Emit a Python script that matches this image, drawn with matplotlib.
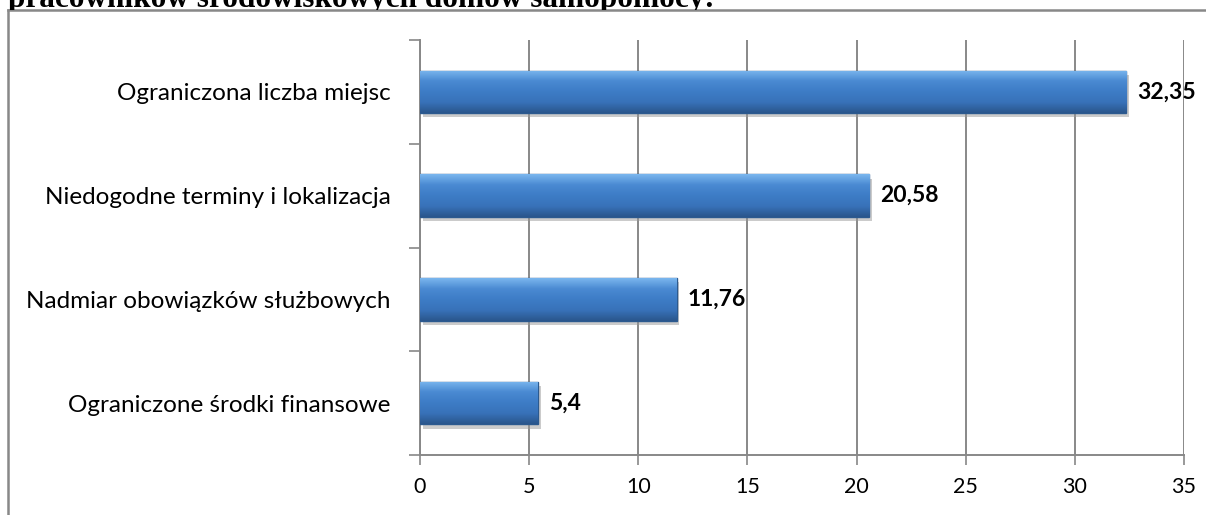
import numpy as np
import matplotlib
matplotlib.use("Agg")
import matplotlib.pyplot as plt
import matplotlib.patheffects as pe
from matplotlib.colors import LinearSegmentedColormap
from matplotlib.lines import Line2D
from matplotlib.transforms import Bbox, TransformedBbox

categories = ['Ograniczona liczba miejsc', 'Niedogodne terminy i lokalizacja',
              'Nadmiar obowiązków służbowych', 'Ograniczone środki finansowe']
values = [32.35, 20.58, 11.76, 5.4]
value_labels = ['32,35', '20,58', '11,76', '5,4']
xticks = [0, 5, 10, 15, 20, 25, 30, 35]
title = 'pracowników środowiskowych domów samopomocy:'

plt.rcParams['font.family'] = ['Lato', 'DejaVu Sans']

fig = plt.figure(figsize=(12.06, 5.15), dpi=100)
ax = fig.add_axes([420 / 1206, 1 - 455 / 515, 764 / 1206, 415 / 515])

ypos = np.arange(len(categories))[::-1]
bars = ax.barh(ypos, values, height=0.41, color='#3b78c2', edgecolor='#2c5a8f',
               linewidth=1.0, zorder=3)

# bevelled gradient look
grad = LinearSegmentedColormap.from_list('bev', ['#2a568c', '#3872b9', '#3d7cc6', '#4a8ad2', '#7ab6ee'])
g = np.linspace(0, 1, 100).reshape(-1, 1)
for b in bars:
    b.set_path_effects([pe.SimplePatchShadow(offset=(2, -3), shadow_rgbFace='#999999', alpha=0.5),
                        pe.Normal()])
    x0, y0 = b.get_x(), b.get_y()
    im = ax.imshow(g, cmap=grad, aspect='auto', origin='lower',
                   extent=(x0, x0 + b.get_width(), y0, y0 + b.get_height()), zorder=4)
    im.set_clip_path(b)

for y, v, t in zip(ypos, values, value_labels):
    ax.annotate(t, (v, y), xytext=(8, 0), textcoords='offset points',
                ha='left', va='center', fontsize=16.5, fontweight='bold', zorder=5)

ax.set_xlim(0, 35)
ax.set_ylim(-0.5, 3.5)
ax.set_xticks(xticks)
ax.set_xticklabels([str(x) for x in xticks], fontsize=15.5)
ax.set_yticks(np.arange(-0.5, 4, 1))
ax.set_yticklabels([])
ax.set_yticks(ypos, minor=True)
ax.set_yticklabels(categories, minor=True, fontsize=17.5)
ax.tick_params(axis='y', which='major', length=8, width=1.2, color='#888888', direction='out')
ax.tick_params(axis='y', which='minor', length=0, pad=21)
ax.tick_params(axis='x', length=7, width=1.2, color='#888888', direction='out', pad=9)

ax.grid(axis='x', color='#888888', linewidth=1.4, zorder=0)
ax.set_axisbelow(True)
for s in ['top', 'right']:
    ax.spines[s].set_visible(False)
for s in ['left', 'bottom']:
    ax.spines[s].set_color('#888888')
    ax.spines[s].set_linewidth(1.4)

# outer frame and cut-off heading above it
fig.add_artist(Line2D([8 / 1206, 1], [1 - 10 / 515, 1 - 10 / 515], transform=fig.transFigure,
                      color='#888888', linewidth=1.8))
fig.add_artist(Line2D([8 / 1206, 8 / 1206], [0, 1 - 10 / 515], transform=fig.transFigure,
                      color='#888888', linewidth=1.8))
ttl = fig.text(8 / 1206, 1 - 7 / 515, title, family='Liberation Serif', fontweight='bold',
               fontsize=22.5, va='baseline', ha='left')
ttl.set_clip_box(TransformedBbox(Bbox([[0, 1 - 10 / 515], [1, 1]]), fig.transFigure))
ttl.set_clip_on(True)

fig.savefig('out.png', dpi=100)
